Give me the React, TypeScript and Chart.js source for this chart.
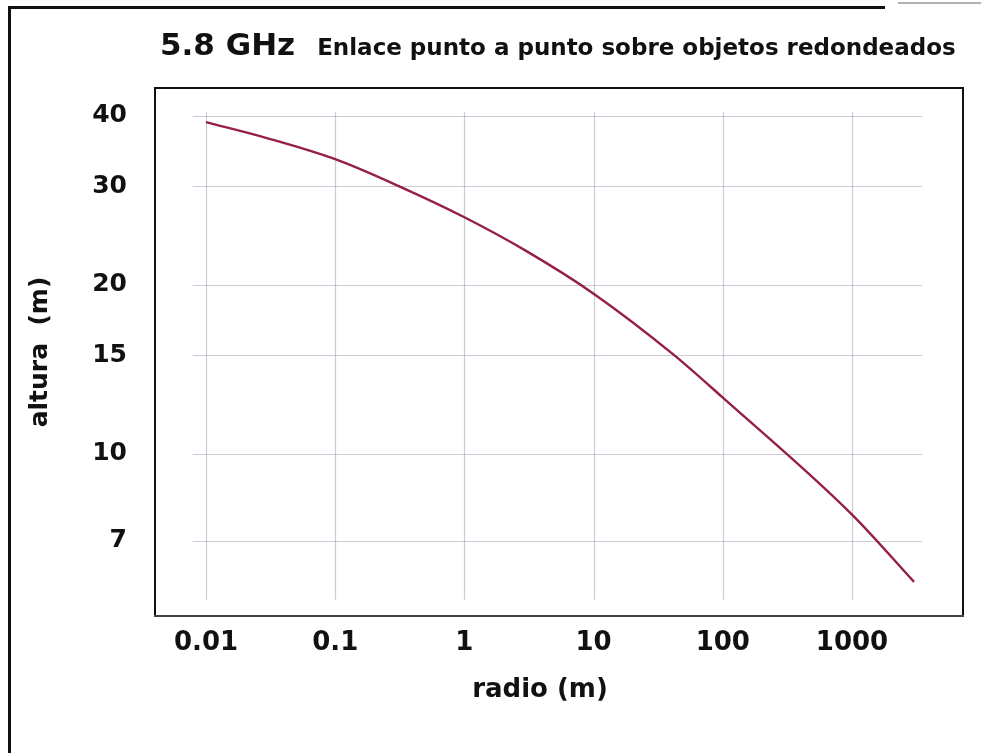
import React, { useEffect, useRef } from "react";
import { Chart, registerables } from "chart.js";

Chart.register(...registerables);

// Curve: required height versus radius of the rounded obstacle
const radio = [0.01, 0.03, 0.1, 0.31, 1, 3, 10, 42, 100, 1000, 3020];
const altura = [39.0, 36.5, 33.5, 30.0, 26.4, 23.0, 19.3, 15.0, 12.6, 7.8, 5.92];

// Axis ticks
const xTicks = [0.01, 0.1, 1, 10, 100, 1000];
const yTicks = [7, 10, 15, 20, 30, 40];

// Extent of the drawn grid (in data units)
const gridXRange = [0.0079, 3480];
const gridYRange = [5.5, 40.6];

const FONT = "'DejaVu Sans', 'Liberation Sans', Arial, sans-serif";

const framePlugin = {
  id: "frameAndGrid",
  beforeDatasetsDraw(chart: any) {
    const { ctx, scales } = chart;
    const x = scales.x;
    const y = scales.y;
    ctx.save();
    ctx.strokeStyle = "rgba(160,160,188,0.55)";
    ctx.lineWidth = 1.2;
    const yTop = y.getPixelForValue(gridYRange[1]);
    const yBot = y.getPixelForValue(gridYRange[0]);
    const xL = x.getPixelForValue(gridXRange[0]);
    const xR = x.getPixelForValue(gridXRange[1]);
    for (const v of xTicks) {
      const px = Math.round(x.getPixelForValue(v)) + 0.5;
      ctx.beginPath();
      ctx.moveTo(px, yTop);
      ctx.lineTo(px, yBot);
      ctx.stroke();
    }
    for (const v of yTicks) {
      const py = Math.round(y.getPixelForValue(v)) + 0.5;
      ctx.beginPath();
      ctx.moveTo(xL, py);
      ctx.lineTo(xR, py);
      ctx.stroke();
    }
    ctx.restore();
  },
  afterDraw(chart: any) {
    const { ctx, chartArea } = chart;
    const { left, right, top, bottom } = chartArea;
    ctx.save();
    // plot frame
    ctx.lineWidth = 2;
    ctx.strokeStyle = "#111";
    ctx.beginPath();
    ctx.moveTo(left, bottom);
    ctx.lineTo(left, top);
    ctx.lineTo(right, top);
    ctx.lineTo(right, bottom);
    ctx.stroke();
    ctx.strokeStyle = "#444";
    ctx.beginPath();
    ctx.moveTo(left - 1, bottom);
    ctx.lineTo(right + 1, bottom);
    ctx.stroke();

    // page frame
    ctx.strokeStyle = "#111";
    ctx.lineWidth = 3;
    ctx.beginPath();
    ctx.moveTo(9.5, chart.height);
    ctx.lineTo(9.5, 7.5);
    ctx.lineTo(885, 7.5);
    ctx.stroke();
    ctx.strokeStyle = "#999";
    ctx.lineWidth = 1.5;
    ctx.beginPath();
    ctx.moveTo(898, 3);
    ctx.lineTo(chart.width, 3);
    ctx.stroke();

    // title
    ctx.fillStyle = "#111";
    ctx.textBaseline = "alphabetic";
    ctx.textAlign = "left";
    ctx.font = `bold 31px ${FONT}`;
    const main = "5.8 GHz";
    ctx.fillText(main, 160, 55);
    const w = ctx.measureText(main).width;
    ctx.font = `bold 23px ${FONT}`;
    ctx.fillText("Enlace punto a punto sobre objetos redondeados", 160 + w + 22, 55);

    // x axis title
    ctx.font = `bold 26px ${FONT}`;
    ctx.textAlign = "center";
    ctx.textBaseline = "middle";
    ctx.fillText("radio (m)", 540, 690);
    ctx.restore();
  },
};

export default function App() {
  const ref = useRef<HTMLCanvasElement | null>(null);

  useEffect(() => {
    if (!ref.current) return;
    const chart = new Chart(ref.current, {
      type: "line",
      data: {
        datasets: [
          {
            data: radio.map((r, i) => ({ x: r, y: altura[i] })),
            borderColor: "#952044",
            borderWidth: 2.4,
            pointRadius: 0,
            cubicInterpolationMode: "monotone",
            fill: false,
          },
        ],
      },
      options: {
        responsive: false,
        animation: false,
        layout: { padding: { top: 88, right: 18, left: 0, bottom: 0 } },
        plugins: {
          legend: { display: false },
          title: { display: false },
          tooltip: { enabled: false },
        },
        scales: {
          x: {
            type: "logarithmic",
            min: 0.004029,
            max: 7228,
            afterBuildTicks: (s: any) => {
              s.ticks = xTicks.map((v) => ({ value: v }));
            },
            afterFit: (s: any) => {
              s.height = 137;
            },
            grid: { display: false },
            border: { display: false },
            ticks: {
              color: "#111",
              padding: 4,
              maxRotation: 0,
              autoSkip: false,
              font: { family: FONT, size: 26, weight: "bold" },
              callback: (v: any) => String(v),
            },
            title: { display: false },
          },
          y: {
            type: "logarithmic",
            min: 5.146,
            max: 44.86,
            afterBuildTicks: (s: any) => {
              s.ticks = yTicks.map((v) => ({ value: v }));
            },
            afterFit: (s: any) => {
              s.width = 155;
            },
            grid: { display: false },
            border: { display: false },
            ticks: {
              color: "#111",
              padding: 20,
              autoSkip: false,
              font: { family: FONT, size: 25, weight: "bold" },
              callback: (v: any) => String(v),
            },
            title: {
              display: true,
              text: "altura  (m)",
              color: "#111",
              font: { family: FONT, size: 25, weight: "bold" },
              padding: { top: 25, bottom: 0 },
            },
          },
        },
      },
      plugins: [framePlugin],
    });
    return () => chart.destroy();
  }, []);

  return (
    <div style={{ position: "absolute", left: 0, top: 0, width: 981, height: 753, background: "#fff" }}>
      <canvas ref={ref} width={981} height={753} style={{ display: "block" }} />
    </div>
  );
}
